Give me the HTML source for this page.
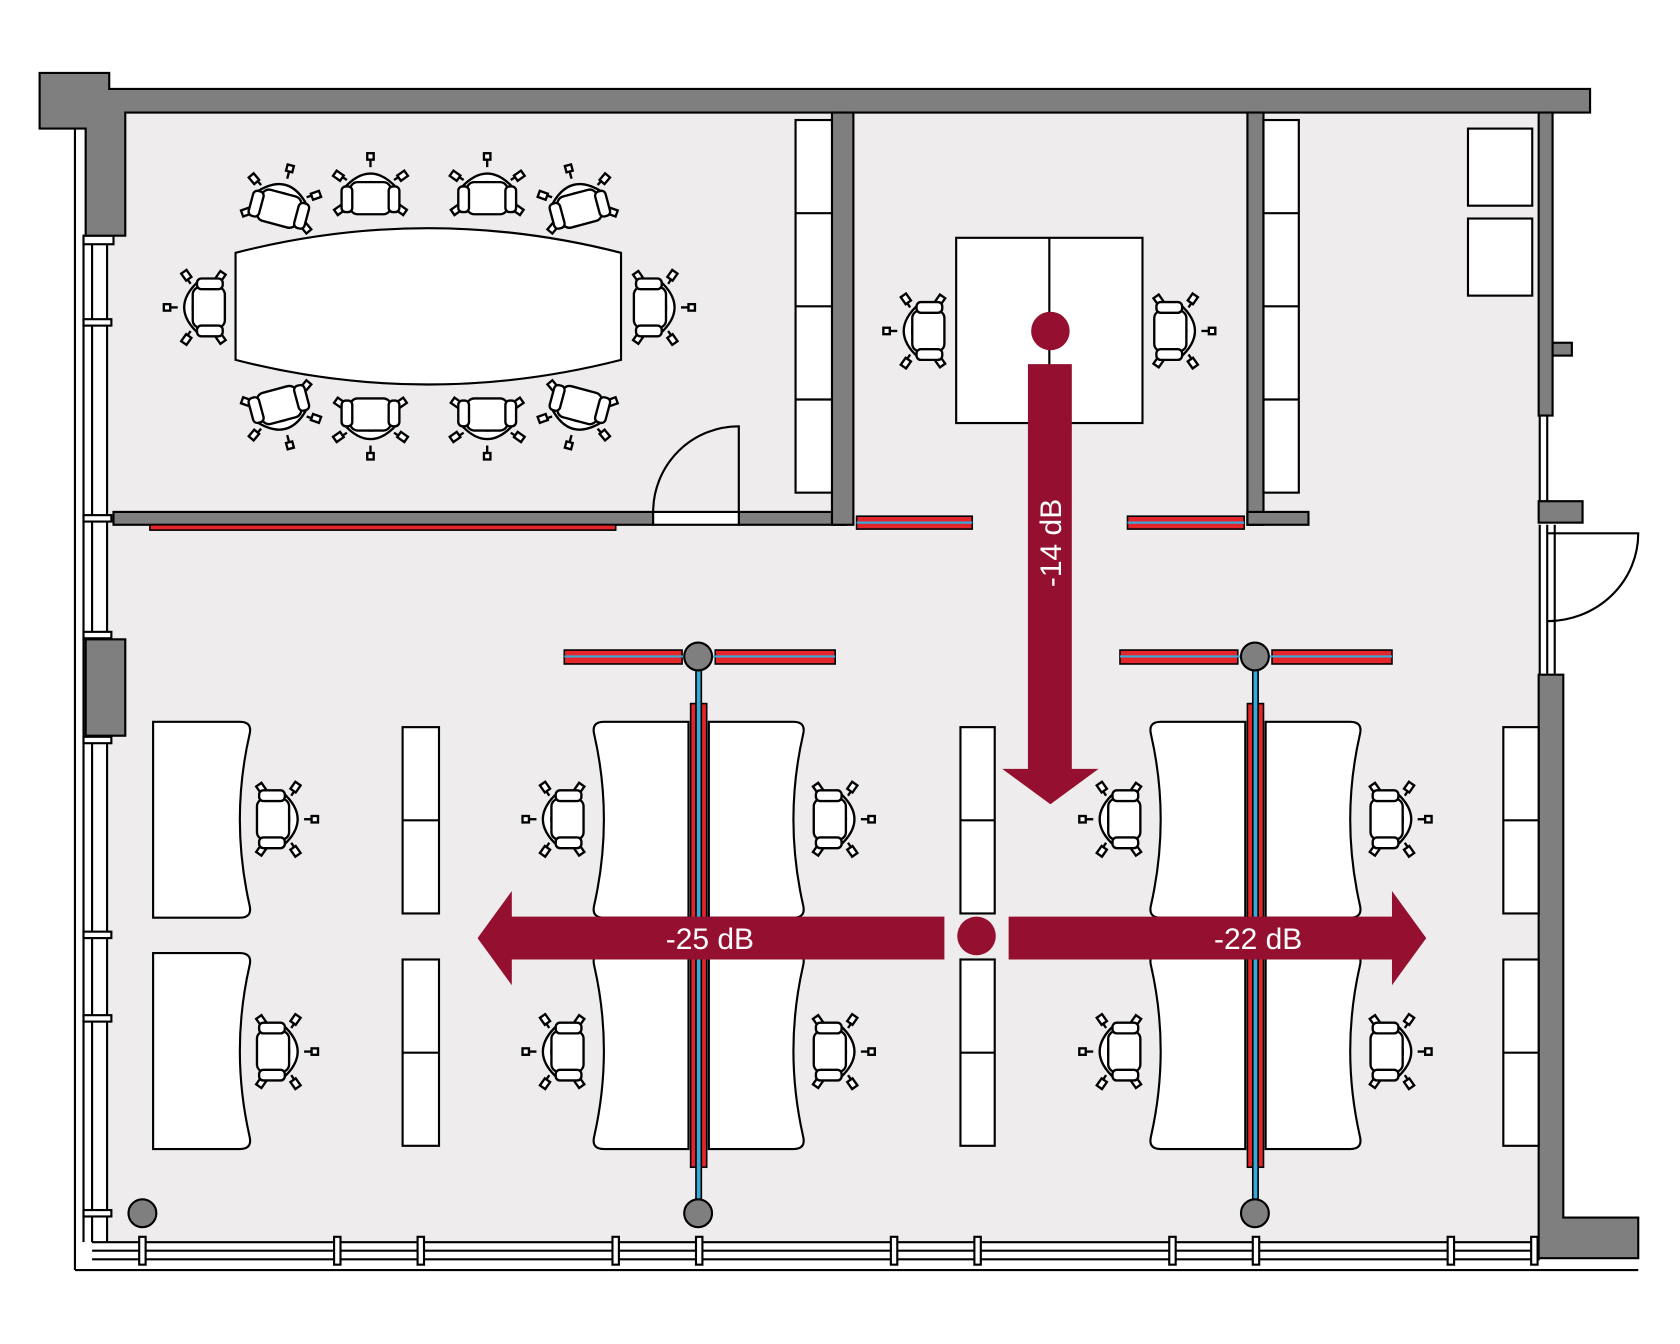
<!DOCTYPE html>
<html><head><style>html,body{margin:0;padding:0;background:#fff}svg{display:block}</style></head><body>
<svg width="1680" height="1344" viewBox="0 0 1569 1255" xmlns="http://www.w3.org/2000/svg" font-family="Liberation Sans, sans-serif">
<defs>
<g id="ch" stroke="#000" stroke-width="2.2" fill="#fff">
<line x1="24" y1="0" x2="31" y2="0"/><rect x="31" y="-3" width="6" height="6"/>
<line x1="12" y1="-22" x2="16" y2="-28"/><rect x="13" y="-34" width="6" height="8" transform="rotate(35 16 -30)"/>
<line x1="12" y1="22" x2="16" y2="28"/><rect x="13" y="26" width="6" height="8" transform="rotate(-35 16 30)"/>
<line x1="-12" y1="-22" x2="-16" y2="-27"/><rect x="-19" y="-33" width="6" height="8" transform="rotate(-35 -16 -29)"/>
<line x1="-12" y1="22" x2="-16" y2="27"/><rect x="-19" y="25" width="6" height="8" transform="rotate(35 -16 29)"/>
<path d="M4,-25 Q32,0 4,25 L-2,25 Q22,0 -2,-25 Z"/>
<rect x="-20" y="-19" width="30" height="38" rx="7"/>
<rect x="-18" y="-27" width="24" height="10" rx="4"/>
<rect x="-18" y="17" width="24" height="10" rx="4"/>
</g>
</defs>
<rect x="100" y="105" width="1338" height="1055" fill="#eeecec"/>
<g stroke="#000" stroke-width="2" fill="none">
<line x1="70" y1="120" x2="70" y2="1186"/><line x1="78" y1="220" x2="78" y2="1160"/><line x1="86" y1="220" x2="86" y2="1160"/><line x1="100" y1="220" x2="100" y2="1160"/>
<line x1="70" y1="1186" x2="1530" y2="1186"/><line x1="86" y1="1160" x2="1438" y2="1160"/><line x1="86" y1="1168" x2="1438" y2="1168"/><line x1="86" y1="1176" x2="1438" y2="1176"/>
<line x1="1438" y1="388" x2="1438" y2="470"/><line x1="1445" y1="388" x2="1445" y2="470"/>
<line x1="1438" y1="490" x2="1438" y2="630"/><line x1="1445" y1="490" x2="1445" y2="630"/><line x1="1452" y1="490" x2="1452" y2="630"/>
</g>
<g fill="#fff" stroke="#000" stroke-width="2">
<rect x="78" y="298" width="26" height="6"/><rect x="78" y="481" width="26" height="6"/><rect x="78" y="590" width="26" height="6"/><rect x="78" y="688" width="26" height="6"/><rect x="78" y="870" width="26" height="6"/><rect x="78" y="948" width="26" height="6"/><rect x="78" y="1130" width="26" height="6"/><rect x="78" y="220" width="28" height="8"/>
<rect x="130" y="1155" width="6" height="26"/><rect x="312" y="1155" width="6" height="26"/><rect x="390" y="1155" width="6" height="26"/><rect x="572" y="1155" width="6" height="26"/><rect x="650" y="1155" width="6" height="26"/><rect x="832" y="1155" width="6" height="26"/><rect x="910" y="1155" width="6" height="26"/><rect x="1092" y="1155" width="6" height="26"/><rect x="1170" y="1155" width="6" height="26"/><rect x="1352" y="1155" width="6" height="26"/><rect x="1430" y="1155" width="6" height="26"/>
</g>
<g fill="#7f7f7f" stroke="#000" stroke-width="2">
<path d="M37,68 H102 V83 H1485 V105 H117 V220 H80 V120 H37 Z"/>
<rect x="80" y="597" width="37" height="90"/>
<rect x="1437" y="105" width="13" height="283"/>
<rect x="1450" y="320" width="18" height="12"/>
<rect x="1437" y="468" width="41" height="20"/>
<path d="M1437,630 H1460 V1137 H1530 V1175 H1437 Z"/>
<rect x="106" y="478" width="504" height="12"/>
<rect x="690" y="478" width="100" height="12"/>
<rect x="777" y="105" width="20" height="385"/>
<rect x="1165" y="105" width="15" height="385"/>
<rect x="1165" y="478" width="57" height="12"/>
</g>
<rect x="610" y="478" width="80" height="12" fill="#fff" stroke="#000" stroke-width="2"/>
<path d="M610,478 A80,80 0 0 1 690,398 V478" fill="none" stroke="#000" stroke-width="2"/>
<path d="M1445,580 A85,82 0 0 0 1530,498 H1445" fill="none" stroke="#000" stroke-width="2"/>
<g fill="#e4262b" stroke="#000" stroke-width="1.5">
<rect x="140" y="490" width="435" height="5"/>
<rect x="800" y="482" width="108" height="12"/><rect x="1053" y="482" width="109" height="12"/>
</g>
<line x1="800" y1="488" x2="908" y2="488" stroke="#3aa8d8" stroke-width="2"/><line x1="1053" y1="488" x2="1162" y2="488" stroke="#3aa8d8" stroke-width="2"/>
<g fill="#fff" stroke="#000" stroke-width="2">
<rect x="743" y="112" width="34" height="348"/><rect x="1180" y="112" width="33" height="348"/>
<rect x="1371" y="120" width="60" height="72"/><rect x="1371" y="204" width="60" height="72"/>
<rect x="376" y="679" width="34" height="174"/><rect x="376" y="896" width="34" height="174"/>
<rect x="897" y="679" width="32" height="174"/><rect x="897" y="896" width="32" height="174"/>
<rect x="1404" y="679" width="33" height="174"/><rect x="1404" y="896" width="33" height="174"/>
</g>
<g stroke="#000" stroke-width="2">
<line x1="743" y1="199" x2="777" y2="199"/><line x1="743" y1="286" x2="777" y2="286"/><line x1="743" y1="373" x2="777" y2="373"/>
<line x1="1180" y1="199" x2="1213" y2="199"/><line x1="1180" y1="286" x2="1213" y2="286"/><line x1="1180" y1="373" x2="1213" y2="373"/>
<line x1="376" y1="766" x2="410" y2="766"/><line x1="376" y1="983" x2="410" y2="983"/>
<line x1="897" y1="766" x2="929" y2="766"/><line x1="897" y1="983" x2="929" y2="983"/>
<line x1="1404" y1="766" x2="1437" y2="766"/><line x1="1404" y1="983" x2="1437" y2="983"/>
</g>
<path d="M220,236 Q400,190 580,236 V336 Q400,382 220,336 Z" fill="#fff" stroke="#000" stroke-width="2"/>
<rect x="893" y="222" width="174" height="173" fill="#fff" stroke="#000" stroke-width="2"/>
<line x1="980" y1="222" x2="980" y2="395" stroke="#000" stroke-width="2"/>
<g fill="#fff" stroke="#000" stroke-width="2">
<path id="dl" d="M143,674 H224 Q236,674 233,686 Q215,765 233,845 Q236,857 224,857 H143 Z"/>
<use href="#dl" y="216"/>
<path id="dm" d="M643,674 H564 Q552,674 555,686 Q573,765 555,845 Q552,857 564,857 H643 Z"/>
<use href="#dm" y="216"/>
<path id="dr" d="M662,674 H741 Q753,674 750,686 Q732,765 750,845 Q753,857 741,857 H662 Z"/>
<use href="#dr" y="216"/>
<use href="#dm" x="520"/><use href="#dm" x="520" y="216"/>
<use href="#dr" x="520"/><use href="#dr" x="520" y="216"/>
</g>
<g stroke="#000" stroke-width="1.5">
<rect x="645" y="657" width="15" height="433" fill="#e4262b"/><rect x="1165" y="657" width="15" height="433" fill="#e4262b"/>
<rect x="527" y="607" width="110" height="13" fill="#e4262b"/><rect x="668" y="607" width="112" height="13" fill="#e4262b"/>
<rect x="1046" y="607" width="110" height="13" fill="#e4262b"/><rect x="1188" y="607" width="112" height="13" fill="#e4262b"/>
<rect x="650" y="620" width="5" height="520" fill="#3aa8d8"/><rect x="1170" y="620" width="5" height="520" fill="#3aa8d8"/>
</g>
<g stroke="#3aa8d8" stroke-width="2"><line x1="527" y1="613" x2="780" y2="613"/><line x1="1046" y1="613" x2="1300" y2="613"/></g>
<g fill="#7f7f7f" stroke="#000" stroke-width="2">
<circle cx="652" cy="613" r="13"/><circle cx="652" cy="1133" r="13"/><circle cx="1172" cy="613" r="13"/><circle cx="1172" cy="1133" r="13"/><circle cx="133" cy="1133" r="13"/>
</g>
<use href="#ch" transform="translate(262,190) rotate(-75)"/>
<use href="#ch" transform="translate(346,180) rotate(-90)"/>
<use href="#ch" transform="translate(455,180) rotate(-90)"/>
<use href="#ch" transform="translate(540,190) rotate(-105)"/>
<use href="#ch" transform="translate(262,383) rotate(75)"/>
<use href="#ch" transform="translate(346,392) rotate(90)"/>
<use href="#ch" transform="translate(455,392) rotate(90)"/>
<use href="#ch" transform="translate(540,383) rotate(105)"/>
<use href="#ch" transform="translate(190,287) rotate(180)"/>
<use href="#ch" transform="translate(612,287)"/>
<use href="#ch" transform="translate(862,309) rotate(180)"/>
<use href="#ch" transform="translate(1098,309)"/>
<use href="#ch" transform="translate(260,765)"/><use href="#ch" transform="translate(260,982)"/>
<use href="#ch" transform="translate(525,765) rotate(180)"/><use href="#ch" transform="translate(525,982) rotate(180)"/>
<use href="#ch" transform="translate(780,765)"/><use href="#ch" transform="translate(780,982)"/>
<use href="#ch" transform="translate(1045,765) rotate(180)"/><use href="#ch" transform="translate(1045,982) rotate(180)"/>
<use href="#ch" transform="translate(1300,765)"/><use href="#ch" transform="translate(1300,982)"/>
<g fill="#951030">
<circle cx="981" cy="309" r="18"/>
<polygon points="960,340 1001,340 1001,718 1026,718 981,751 936,718 960,718"/>
<circle cx="912" cy="874" r="18"/>
<polygon points="882,856 478,856 478,832 446,876 478,920 478,896 882,896"/>
<polygon points="942,856 1300,856 1300,832 1332,876 1300,920 1300,896 942,896"/>
</g>
<g fill="#fff" font-size="28">
<text x="663" y="886" text-anchor="middle">-25 dB</text>
<text x="1175" y="886" text-anchor="middle">-22 dB</text>
<text transform="translate(991,507) rotate(-90)" text-anchor="middle">-14 dB</text>
</g>
</svg>
</body></html>
